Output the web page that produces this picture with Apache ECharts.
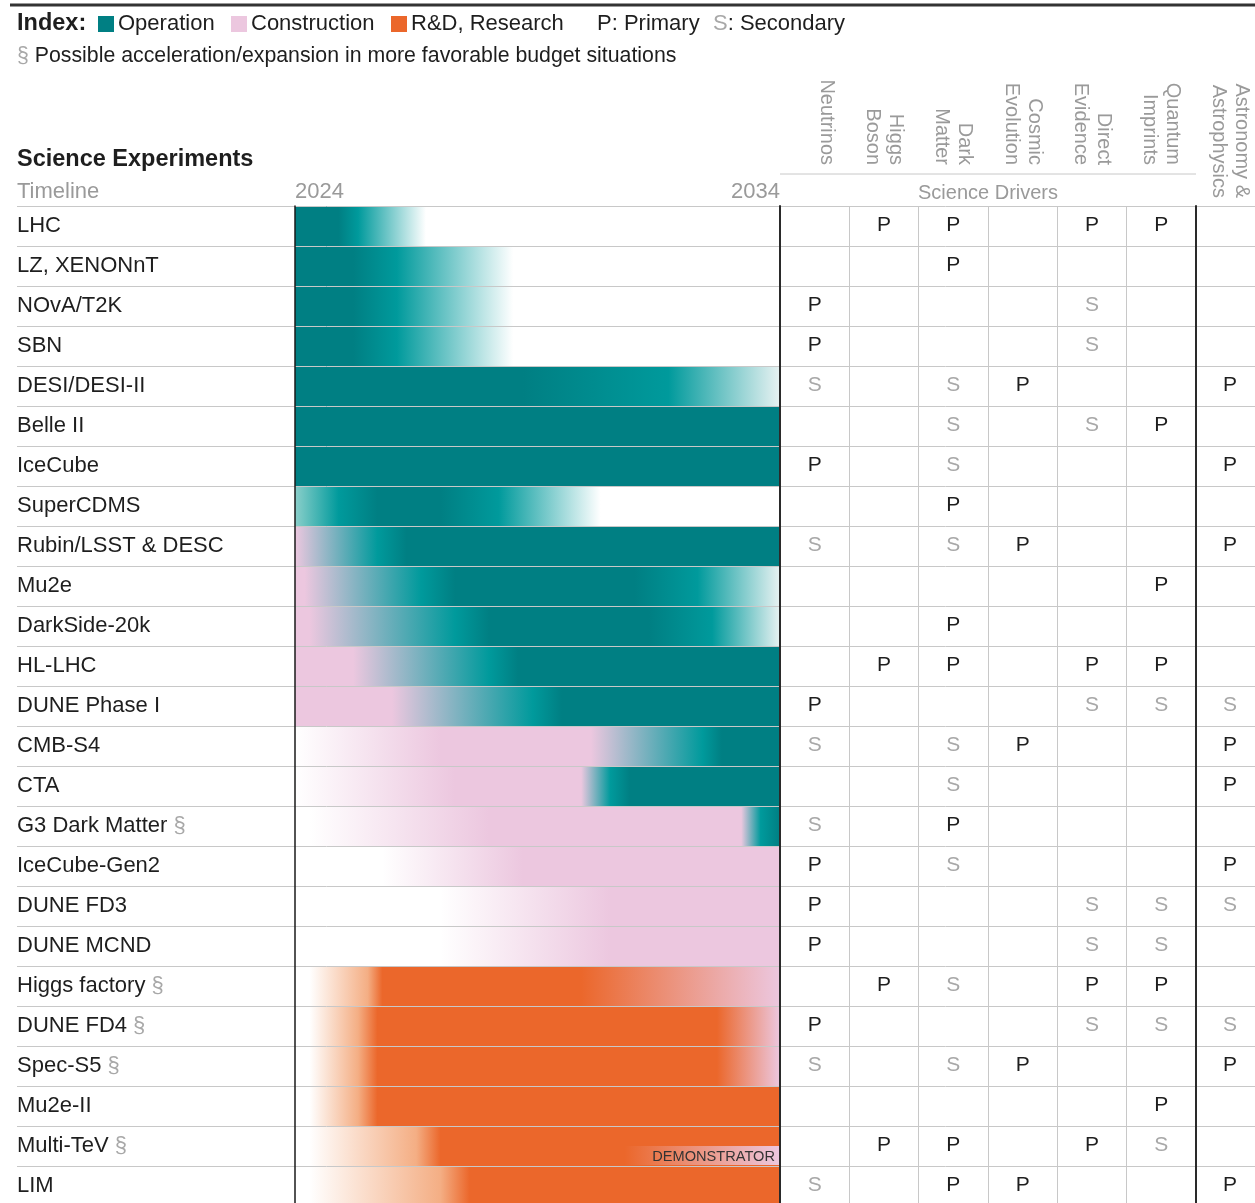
<!DOCTYPE html>
<html><head><meta charset="utf-8">
<script src="https://cdn.jsdelivr.net/npm/echarts@6/dist/echarts.min.js"></script>
<style>html,body{margin:0;padding:0;background:#fff}#c{width:1255px;height:1203px}</style>
</head><body><div id="c"></div>
<script>
// ---------------- DATA ----------------
const experiments = ['LHC','LZ, XENONnT','NOvA/T2K','SBN','DESI/DESI-II','Belle II','IceCube','SuperCDMS',
  'Rubin/LSST & DESC','Mu2e','DarkSide-20k','HL-LHC','DUNE Phase I','CMB-S4','CTA','G3 Dark Matter §',
  'IceCube-Gen2','DUNE FD3','DUNE MCND','Higgs factory §','DUNE FD4 §','Spec-S5 §','Mu2e-II','Multi-TeV §','LIM'];

const drivers = ['Neutrinos','Higgs\nBoson','Dark\nMatter','Cosmic\nEvolution','Direct\nEvidence','Quantum\nImprints'];
const astroDriver = ['Astronomy &\nAstrophysics'];

const YEAR_MIN = 2024, YEAR_MAX = 2034;
const yearTicks = [2024, 2034];

// phase keys: O operation, o operation (bright), L operation (light), C construction,
// R R&D, P R&D (light), W none, w none (tinted)
const timelineStops = [
  [[2024,'O'],[2024.9,'O'],[2025.3,'o'],[2026.7,'W'],[2034,'W']],                       // LHC
  [[2024,'O'],[2025.2,'O'],[2026.1,'o'],[2028.5,'W'],[2034,'W']],                       // LZ
  [[2024,'O'],[2025.2,'O'],[2026.1,'o'],[2028.5,'W'],[2034,'W']],                       // NOvA
  [[2024,'O'],[2025.2,'O'],[2026.1,'o'],[2028.5,'W'],[2034,'W']],                       // SBN
  [[2024,'O'],[2028.7,'O'],[2031.7,'o'],[2034,'w']],                                    // DESI
  [[2024,'O'],[2034,'O']],                                                              // Belle II
  [[2024,'O'],[2034,'O']],                                                              // IceCube
  [[2024,'L'],[2024.9,'o'],[2025.7,'O'],[2027,'O'],[2028.2,'o'],[2030.3,'W'],[2034,'W']], // SuperCDMS
  [[2024,'C'],[2025.7,'o'],[2026.3,'O'],[2034,'O']],                                    // Rubin
  [[2024,'C'],[2024.2,'C'],[2026.6,'o'],[2027.3,'O'],[2031.0,'O'],[2032.3,'o'],[2034,'w']], // Mu2e
  [[2024,'C'],[2024.3,'C'],[2027.3,'o'],[2028,'O'],[2031.3,'O'],[2032.6,'o'],[2034,'w']],   // DarkSide
  [[2024,'C'],[2025.2,'C'],[2028,'o'],[2028.6,'O'],[2034,'O']],                         // HL-LHC
  [[2024,'C'],[2026,'C'],[2028.9,'o'],[2029.5,'O'],[2034,'O']],                         // DUNE Phase I
  [[2024,'W'],[2027,'C'],[2030.1,'C'],[2032.4,'o'],[2032.8,'O'],[2034,'O']],            // CMB-S4
  [[2024,'W'],[2027.3,'C'],[2029.9,'C'],[2030.5,'o'],[2030.9,'O'],[2034,'O']],          // CTA
  [[2024,'W'],[2024.3,'W'],[2028,'C'],[2033.2,'C'],[2033.6,'o'],[2034,'O']],            // G3 DM
  [[2024,'W'],[2025.8,'W'],[2028.7,'C'],[2034,'C']],                                    // IceCube-Gen2
  [[2024,'W'],[2027,'W'],[2030.5,'C'],[2034,'C']],                                      // DUNE FD3
  [[2024,'W'],[2027,'W'],[2030.5,'C'],[2034,'C']],                                      // DUNE MCND
  [[2024,'W'],[2024.3,'W'],[2025.5,'P'],[2025.8,'R'],[2029.9,'R'],[2034,'C']],          // Higgs factory
  [[2024,'W'],[2024.3,'W'],[2025.3,'P'],[2025.7,'R'],[2032.7,'R'],[2034,'C']],          // DUNE FD4
  [[2024,'W'],[2024.3,'W'],[2025.3,'P'],[2025.7,'R'],[2032.7,'R'],[2034,'C']],          // Spec-S5
  [[2024,'W'],[2024.3,'W'],[2025.3,'P'],[2025.7,'R'],[2034,'R']],                       // Mu2e-II
  [[2024,'W'],[2024.3,'W'],[2026.5,'P'],[2027,'R'],[2034,'R']],                         // Multi-TeV
  [[2024,'W'],[2024.3,'W'],[2027,'P'],[2027.6,'R'],[2034,'R']]                          // LIM
];

// demonstrator sub-bar
const demoRow = 'Multi-TeV §';
const demoStops = [[2030.4,'R'],[2030.8,'R'],[2034,'C']];
const demoLabel = 'DEMONSTRATOR';

// Science driver matrix: columns Neutrinos, Higgs, Dark Matter, Cosmic, Direct, Quantum, Astro
const matrix = [
  '.PP.PP.', '..P....', 'P...S..', 'P...S..', 'S.SP..P', '..S.SP.', 'P.S...P', '..P....',
  'S.SP..P', '.....P.', '..P....', '.PP.PP.', 'P...SSS', 'S.SP..P', '..S...P', 'S.P....',
  'P.S...P', 'P...SSS', 'P...SS.', '.PS.PP.', 'P...SSS', 'S.SP..P', '.....P.', '.PP.PS.', 'S.PP..P'
];

// ---------------- STYLE ----------------
const phaseColors = {O:'#007F83', o:'#009A9C', L:'#8ACFCA', C:'#ECC7DF', R:'#EB672B', P:'#F4AE84', W:'#FFFFFF', w:'#E8F2F2'};
const FONT = 'Liberation Sans, Arial, Helvetica, sans-serif';
const GRAY = '#9a9a9a', DARK = '#1e1e1e', LINE = '#c8c8c8';

const chart = echarts.init(document.getElementById('c'), null, {renderer:'canvas'});

function grad(stops, a, b){
  return new echarts.graphic.LinearGradient(0,0,1,0, stops.map(s=>({
    offset: Math.min(1, Math.max(0, (s[0]-a)/(b-a))), color: phaseColors[s[1]] })));
}

const mainCells = [], astroCells = [];
matrix.forEach((row, i) => {
  for (let j = 0; j < row.length; j++) {
    const ch = row[j];
    if (ch === '.') continue;
    if (j < drivers.length) mainCells.push([j, i, ch]); else astroCells.push([0, i, ch]);
  }
});

function cellRender(cells){
  return function(params, api){
    const c = cells[params.dataIndex];
    const p = api.coord([c[0], c[1]]);
    return {type:'text', x:p[0], y:p[1]-1, style:{text:c[2], fill: c[2]==='P' ? DARK : '#a8a8a8',
      font:'21px '+FONT, align:'center', verticalAlign:'middle'}};
  };
}
const headFmt = v => (v.indexOf('\n') < 0 ? v + '\n ' : v);

const demoIndex = experiments.indexOf(demoRow);

const option = {
  animation:false,
  backgroundColor:'#fff',
  textStyle:{fontFamily:FONT},
  grid:[
    {left:17, right:0, top:206, height:1000, outerBoundsMode:'none', containLabel:false},
    {left:295, width:485, top:206, height:1000, outerBoundsMode:'none', containLabel:false},
    {left:780, width:416, top:206, height:1000, outerBoundsMode:'none', containLabel:false},
    {left:1196, width:68, top:206, height:1000, outerBoundsMode:'none', containLabel:false}
  ],
  xAxis:[
    {gridIndex:0, type:'value', show:false},
    {gridIndex:1, type:'value', min:YEAR_MIN, max:YEAR_MAX, interval:YEAR_MAX-YEAR_MIN, position:'top',
      axisLine:{show:false}, axisTick:{show:false}, splitLine:{show:false},
      axisLabel:{show:true, margin:3, color:GRAY, fontSize:22, fontFamily:FONT,
        alignMinLabel:'left', alignMaxLabel:'right', showMinLabel:true, showMaxLabel:true,
        formatter: v => (yearTicks.indexOf(v) >= 0 ? String(v) : '')}},
    {gridIndex:2, type:'category', data:drivers, position:'top',
      axisLine:{show:false}, axisTick:{show:false},
      splitLine:{show:true, lineStyle:{color:LINE, width:1}},
      axisLabel:{interval:0, rotate:90, margin:41, color:GRAY, fontSize:20, lineHeight:23, fontFamily:FONT,
        formatter: headFmt},
      name:'Science Drivers', nameLocation:'middle', nameGap:3, nameMoveOverlap:false,
      nameTextStyle:{color:GRAY, fontSize:20, fontFamily:FONT, verticalAlign:'bottom'}},
    {gridIndex:3, type:'category', data:astroDriver, position:'top',
      axisLine:{show:false}, axisTick:{show:false}, splitLine:{show:false},
      axisLabel:{interval:0, rotate:90, margin:8, color:GRAY, fontSize:20, lineHeight:23, fontFamily:FONT,
        formatter: headFmt}}
  ],
  yAxis:[
    {gridIndex:0, type:'category', data:experiments, inverse:true, z:10,
      axisLine:{show:false}, axisTick:{show:false},
      splitLine:{show:true, lineStyle:{color:LINE, width:1}},
      axisLabel:{inside:true, margin:0, interval:0, fontSize:22, color:DARK, fontFamily:FONT,
        formatter: v => v.replace('§', '{g|§}'),
        rich:{g:{color:'#a8a8a8', fontSize:22, fontFamily:FONT}}}},
    {gridIndex:1, type:'category', data:experiments, inverse:true, z:11,
      axisLine:{show:true, lineStyle:{color:'#1a1a1a', width:1.5}}, axisTick:{show:false},
      axisLabel:{show:false}, splitLine:{show:false}},
    {gridIndex:2, type:'category', data:experiments, inverse:true, z:11,
      axisLine:{show:true, lineStyle:{color:'#2a2a2a', width:2}}, axisTick:{show:false},
      axisLabel:{show:false}, splitLine:{show:false}},
    {gridIndex:3, type:'category', data:experiments, inverse:true, z:11,
      axisLine:{show:true, lineStyle:{color:'#2a2a2a', width:2}}, axisTick:{show:false},
      axisLabel:{show:false}, splitLine:{show:false}}
  ],
  series:[
    {type:'custom', name:'timeline', xAxisIndex:1, yAxisIndex:1, z:2,
      data: experiments.map((n,i)=>[YEAR_MIN, i]), encode:{x:0, y:1},
      renderItem(params, api){
        const i = params.dataIndex;
        const a = api.coord([YEAR_MIN, i]), b = api.coord([YEAR_MAX, i]);
        const h = api.size([0,1])[1];
        return {type:'rect', shape:{x:a[0], y:a[1]-h/2, width:b[0]-a[0], height:h},
          style:{fill: grad(timelineStops[i], YEAR_MIN, YEAR_MAX)}};
      }},
    {type:'custom', name:'demonstrator', xAxisIndex:1, yAxisIndex:1, z:3,
      data:[[demoStops[0][0], demoIndex]], encode:{x:0, y:1},
      renderItem(params, api){
        const s0 = demoStops[0][0], s1 = demoStops[demoStops.length-1][0];
        const a = api.coord([s0, demoIndex]), b = api.coord([s1, demoIndex]);
        const h = api.size([0,1])[1];
        return {type:'group', children:[
          {type:'rect', shape:{x:a[0], y:a[1], width:b[0]-a[0], height:h/2-1},
            style:{fill: grad(demoStops, s0, s1)}},
          {type:'text', x:b[0]-5, y:a[1]+h/4+0.5, style:{text:demoLabel, fill:'#333',
            font:'14.6px '+FONT, align:'right', verticalAlign:'middle'}}
        ]};
      }},
    {type:'custom', name:'drivers', xAxisIndex:2, yAxisIndex:2, z:4,
      data: mainCells.map(c=>[c[0], c[1]]), encode:{x:0, y:1}, renderItem: cellRender(mainCells)},
    {type:'custom', name:'astro', xAxisIndex:3, yAxisIndex:3, z:4,
      data: astroCells.map(c=>[c[0], c[1]]), encode:{x:0, y:1}, renderItem: cellRender(astroCells)}
  ],
  graphic:{elements:[
    {type:'line', shape:{x1:10, y1:5, x2:1255, y2:5}, style:{stroke:'#333', lineWidth:3}},
    {type:'text', x:17, y:24, style:{text:'Index:', font:'bold 23.5px '+FONT, fill:DARK, verticalAlign:'middle'}},
    {type:'rect', shape:{x:98, y:16, width:16, height:16}, style:{fill:phaseColors.O}},
    {type:'text', x:118, y:24, style:{text:'Operation', font:'22px '+FONT, fill:DARK, verticalAlign:'middle'}},
    {type:'rect', shape:{x:231, y:16, width:16, height:16}, style:{fill:phaseColors.C}},
    {type:'text', x:251, y:24, style:{text:'Construction', font:'22px '+FONT, fill:DARK, verticalAlign:'middle'}},
    {type:'rect', shape:{x:391, y:16, width:16, height:16}, style:{fill:phaseColors.R}},
    {type:'text', x:411, y:24, style:{text:'R&D, Research', font:'22px '+FONT, fill:DARK, verticalAlign:'middle'}},
    {type:'text', x:597, y:24, style:{text:'P: Primary', font:'22px '+FONT, fill:DARK, verticalAlign:'middle'}},
    {type:'text', x:713, y:24, style:{text:'{g|S}: Secondary', font:'22px '+FONT, fill:DARK, verticalAlign:'middle',
      rich:{g:{fill:'#a8a8a8', font:'22px '+FONT}}}},
    {type:'text', x:17, y:56, style:{text:'{g|§} Possible acceleration/expansion in more favorable budget situations',
      font:'21.3px '+FONT, fill:DARK, verticalAlign:'middle', rich:{g:{fill:'#a8a8a8', font:'21.3px '+FONT}}}},
    {type:'text', x:17, y:160, style:{text:'Science Experiments', font:'bold 23.5px '+FONT, fill:DARK, verticalAlign:'middle'}},
    {type:'text', x:17, y:192, style:{text:'Timeline', font:'22px '+FONT, fill:GRAY, verticalAlign:'middle'}},
    {type:'line', shape:{x1:780, y1:174, x2:1196, y2:174}, style:{stroke:LINE, lineWidth:1}}
  ]}
};
chart.setOption(option);
</script></body></html>
